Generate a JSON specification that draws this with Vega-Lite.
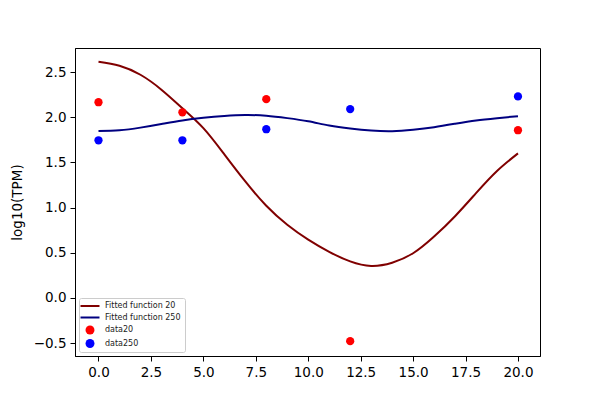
{
  "$schema": "https://vega.github.io/schema/vega-lite/v6.json",
  "width": 465,
  "height": 308,
  "autosize": "none",
  "padding": {"left": 75, "top": 48, "right": 60, "bottom": 44},
  "background": "white",
  "data": {
    "values": [
      {"series": "Fitted function 20", "kind": "fit", "t": 0, "v": 2.614},
      {"series": "Fitted function 20", "kind": "fit", "t": 1, "v": 2.57},
      {"series": "Fitted function 20", "kind": "fit", "t": 2, "v": 2.47},
      {"series": "Fitted function 20", "kind": "fit", "t": 3, "v": 2.305},
      {"series": "Fitted function 20", "kind": "fit", "t": 4, "v": 2.1},
      {"series": "Fitted function 20", "kind": "fit", "t": 5, "v": 1.88},
      {"series": "Fitted function 20", "kind": "fit", "t": 6, "v": 1.59},
      {"series": "Fitted function 20", "kind": "fit", "t": 7, "v": 1.29},
      {"series": "Fitted function 20", "kind": "fit", "t": 8, "v": 1.02},
      {"series": "Fitted function 20", "kind": "fit", "t": 9, "v": 0.81},
      {"series": "Fitted function 20", "kind": "fit", "t": 10, "v": 0.645},
      {"series": "Fitted function 20", "kind": "fit", "t": 11, "v": 0.51},
      {"series": "Fitted function 20", "kind": "fit", "t": 12, "v": 0.405},
      {"series": "Fitted function 20", "kind": "fit", "t": 13, "v": 0.355},
      {"series": "Fitted function 20", "kind": "fit", "t": 14, "v": 0.39},
      {"series": "Fitted function 20", "kind": "fit", "t": 15, "v": 0.495},
      {"series": "Fitted function 20", "kind": "fit", "t": 16, "v": 0.68},
      {"series": "Fitted function 20", "kind": "fit", "t": 17, "v": 0.905},
      {"series": "Fitted function 20", "kind": "fit", "t": 18, "v": 1.16},
      {"series": "Fitted function 20", "kind": "fit", "t": 19, "v": 1.405},
      {"series": "Fitted function 20", "kind": "fit", "t": 20, "v": 1.6},
      {"series": "Fitted function 250", "kind": "fit", "t": 0, "v": 1.847},
      {"series": "Fitted function 250", "kind": "fit", "t": 1, "v": 1.855},
      {"series": "Fitted function 250", "kind": "fit", "t": 2, "v": 1.885},
      {"series": "Fitted function 250", "kind": "fit", "t": 3, "v": 1.925},
      {"series": "Fitted function 250", "kind": "fit", "t": 4, "v": 1.965},
      {"series": "Fitted function 250", "kind": "fit", "t": 5, "v": 1.993},
      {"series": "Fitted function 250", "kind": "fit", "t": 6, "v": 2.013},
      {"series": "Fitted function 250", "kind": "fit", "t": 7, "v": 2.024},
      {"series": "Fitted function 250", "kind": "fit", "t": 8, "v": 2.016},
      {"series": "Fitted function 250", "kind": "fit", "t": 9, "v": 1.99},
      {"series": "Fitted function 250", "kind": "fit", "t": 10, "v": 1.955},
      {"series": "Fitted function 250", "kind": "fit", "t": 11, "v": 1.908},
      {"series": "Fitted function 250", "kind": "fit", "t": 12, "v": 1.875},
      {"series": "Fitted function 250", "kind": "fit", "t": 13, "v": 1.853},
      {"series": "Fitted function 250", "kind": "fit", "t": 14, "v": 1.846},
      {"series": "Fitted function 250", "kind": "fit", "t": 15, "v": 1.862},
      {"series": "Fitted function 250", "kind": "fit", "t": 16, "v": 1.89},
      {"series": "Fitted function 250", "kind": "fit", "t": 17, "v": 1.928},
      {"series": "Fitted function 250", "kind": "fit", "t": 18, "v": 1.965},
      {"series": "Fitted function 250", "kind": "fit", "t": 19, "v": 1.99},
      {"series": "Fitted function 250", "kind": "fit", "t": 20, "v": 2.012},
      {"series": "data20", "kind": "data", "t": 0, "v": 2.166},
      {"series": "data20", "kind": "data", "t": 4, "v": 2.055},
      {"series": "data20", "kind": "data", "t": 8, "v": 2.2},
      {"series": "data20", "kind": "data", "t": 12, "v": -0.478},
      {"series": "data20", "kind": "data", "t": 20, "v": 1.856},
      {"series": "data250", "kind": "data", "t": 0, "v": 1.745},
      {"series": "data250", "kind": "data", "t": 4, "v": 1.745},
      {"series": "data250", "kind": "data", "t": 8, "v": 1.867},
      {"series": "data250", "kind": "data", "t": 12, "v": 2.09},
      {"series": "data250", "kind": "data", "t": 20, "v": 2.23}
    ]
  },
  "encoding": {
    "x": {
      "field": "t",
      "type": "quantitative",
      "scale": {"domain": [-1.12, 21.05], "nice": false, "zero": false},
      "axis": {"values": [0, 2.5, 5, 7.5, 10, 12.5, 15, 17.5, 20], "format": ".1f", "title": null}
    },
    "y": {
      "field": "v",
      "type": "quantitative",
      "scale": {"domain": [-0.642, 2.766], "nice": false, "zero": false},
      "axis": {"values": [-0.5, 0, 0.5, 1, 1.5, 2, 2.5], "format": ".1f", "title": "log10(TPM)"}
    },
    "color": {
      "field": "series",
      "type": "nominal",
      "scale": {
        "domain": ["Fitted function 20", "Fitted function 250", "data20", "data250"],
        "range": ["#800000", "#000080", "#ff0000", "#0000ff"]
      },
      "legend": {
        "title": null,
        "orient": "bottom-left",
        "offset": 4,
        "padding": 4,
        "fillColor": "white",
        "strokeColor": "#cccccc",
        "cornerRadius": 2,
        "labelFont": "DejaVu Sans",
        "labelFontSize": 8,
        "labelColor": "#222222",
        "labelOffset": 14,
        "rowPadding": 3.5,
        "symbolSize": 80,
        "encode": {
          "symbols": {
            "update": {
              "x": {"value": 7},
              "shape": {"signal": "indexof(['data20', 'data250'], datum.value) >= 0 ? 'circle' : 'stroke'"},
              "size": {"signal": "indexof(['data20', 'data250'], datum.value) >= 0 ? 80 : 360"},
              "fill": {"signal": "indexof(['data20', 'data250'], datum.value) >= 0 ? scale('color', datum.value) : 'transparent'"},
              "stroke": {"signal": "scale('color', datum.value)"},
              "strokeWidth": {"signal": "indexof(['data20', 'data250'], datum.value) >= 0 ? 0 : 2"},
              "opacity": {"value": 1},
              "fillOpacity": {"value": 1},
              "strokeOpacity": {"value": 1}
            }
          }
        }
      }
    }
  },
  "layer": [
    {
      "transform": [{"filter": "datum.kind === 'fit'"}],
      "mark": {"type": "line", "strokeWidth": 2, "interpolate": "natural"}
    },
    {
      "transform": [{"filter": "datum.kind === 'data'"}],
      "mark": {"type": "circle", "size": 68, "opacity": 1}
    }
  ],
  "config": {
    "view": {"stroke": "black", "strokeWidth": 1},
    "font": "DejaVu Sans",
    "axis": {
      "grid": false,
      "domainColor": "black",
      "domainWidth": 1,
      "tickColor": "black",
      "tickWidth": 1,
      "tickSize": 5,
      "labelColor": "black",
      "labelFont": "DejaVu Sans",
      "labelFontSize": 13.5,
      "labelPadding": 4,
      "titleFont": "DejaVu Sans",
      "titleFontSize": 13.5,
      "titleFontWeight": "normal",
      "titleColor": "black",
      "titlePadding": 9
    }
  }
}
